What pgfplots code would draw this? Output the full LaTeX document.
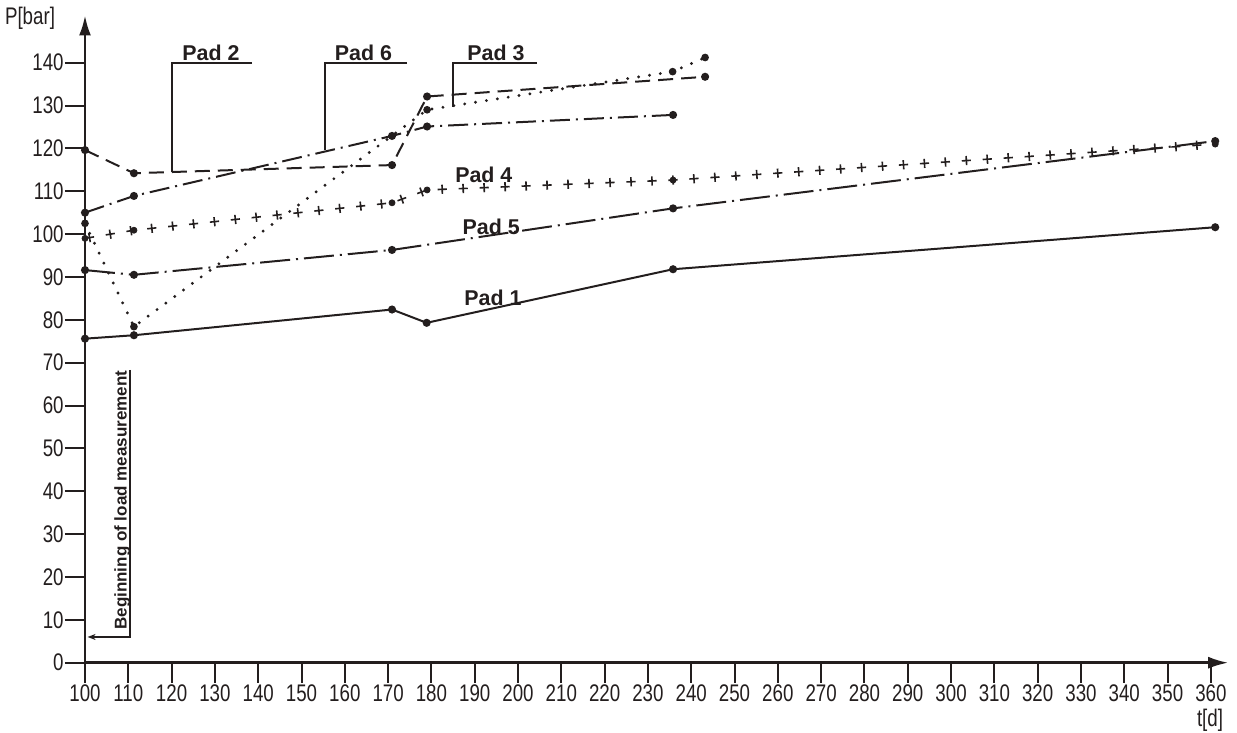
\documentclass[border=0pt]{standalone}
\usepackage{fontspec}
\setmainfont{Liberation Sans}
\newfontfamily\din[FakeStretch=0.78]{Liberation Sans}
\usepackage{pgfplots}
\usepackage{pgfplotstable}
\pgfplotsset{compat=1.18}
\usetikzlibrary{arrows.meta}
\definecolor{ink}{RGB}{35,30,30}

\pgfplotstableread{
x y
100 99.0
111.3 100.9
170.9 107.3
179 110.3
235.8 112.6
361 121.0
}\padfour

\begin{document}
\begin{tikzpicture}
\begin{axis}[
  at={(0,0)}, anchor=south west,
  scale only axis, width=571.6pt, height=323.6pt,
  xmin=100, xmax=364, ymin=0, ymax=151,
  axis lines=left,
  axis line style={ink, line width=1.2pt},
  x axis line style={-{Latex[length=10pt,width=6pt]}},
  y axis line style={-{Latex[length=10pt,width=6pt]}},
  xtick={100,110,...,360}, ytick={0,10,...,140},
  tick align=outside, major tick length=10pt,
  tick style={ink, line width=1pt},
  ticklabel style={font=\din\fontsize{12}{12}\selectfont, text=ink},
  /pgf/number format/assume math mode=true,
  yticklabel style={inner sep=0.5pt},
  xticklabel style={inner sep=1pt},
  clip=false,
]
% Pad 1 (solid)
\addplot[ink, line width=1pt, mark=*, mark size=1.5pt, mark options={solid, fill=ink}]
  coordinates {(100,75.6)(111.3,76.4)(170.9,82.4)(178.9,79.3)(235.8,91.8)(361,101.6)};
% Pad 5 (long dash-dot)
\addplot[ink, line width=1pt, dash pattern=on 15pt off 3pt on 1pt off 3pt,
  mark=*, mark size=1.5pt, mark options={solid, fill=ink}]
  coordinates {(100,91.6)(111.3,90.5)(170.9,96.3)(235.8,106.0)(361,121.7)};
% Pad 4 (plus signs): horizontal bars + perpendicular bars via dash patterns
\addplot[ink, line width=0.8pt, mark=none, dash pattern=on 4.6pt off 5.9pt]
  table[x=x,y=y] {\padfour};
\addplot[ink, line width=4.6pt, line cap=butt, line join=bevel, mark=none,
  dash pattern=on 0.8pt off 9.7pt, dash phase=8.6pt]
  table[x=x,y=y] {\padfour};
\addplot[only marks, mark=*, mark size=1.5pt, mark options={solid, draw=ink, fill=ink}]
  table[x=x,y=y] {\padfour};
% Pad 6 (dash-dot)
\addplot[ink, line width=1pt, dash pattern=on 10pt off 3pt on 1pt off 3pt,
  mark=*, mark size=1.5pt, mark options={solid, fill=ink}]
  coordinates {(100,105.0)(111.3,108.9)(170.9,122.9)(179,125.1)(235.8,127.8)};
% Pad 2 (dashed)
\addplot[ink, line width=1pt, dash pattern=on 7.5pt off 4pt,
  mark=*, mark size=1.5pt, mark options={solid, fill=ink}]
  coordinates {(100,119.6)(111.3,114.2)(170.9,116.1)(179,132.1)(243.2,136.7)};
% Pad 3 (dotted)
\addplot[ink, line width=1.6pt, line cap=round, dash pattern=on 0pt off 5.5pt,
  mark=*, mark size=1.6pt, mark options={solid, fill=ink, line width=0.6pt}]
  coordinates {(100,102.5)(111.3,78.4)(179,129.0)(235.7,137.9)(243.2,141.2)};

% labels
\tikzset{padlbl/.style={font=\bfseries\fontsize{10.7}{12}\selectfont, text=ink, anchor=base, inner sep=0pt}}
\node[padlbl] at (axis cs:129.1,140.5) {Pad 2};
\node[padlbl] at (axis cs:164.3,140.5) {Pad 6};
\node[padlbl] at (axis cs:194.9,140.5) {Pad 3};
\node[padlbl] at (axis cs:192.1,112.1) {Pad 4};
\node[padlbl] at (axis cs:193.8,100.0) {Pad 5};
\node[padlbl] at (axis cs:194.2,83.4) {Pad 1};
\draw[ink, line width=0.8pt] (axis cs:138.6,139.9) -- (axis cs:120.1,139.9) -- (axis cs:120.1,114.5);
\draw[ink, line width=0.8pt] (axis cs:174.4,139.9) -- (axis cs:155.4,139.9) -- (axis cs:155.4,119.6);
\draw[ink, line width=0.8pt] (axis cs:204.4,139.9) -- (axis cs:185.0,139.9) -- (axis cs:185.0,129.7);

\node[font=\bfseries\fontsize{8.5}{10}\selectfont, text=ink, rotate=90, anchor=base, inner sep=0pt]
  at (axis cs:109.6,37.9) {Beginning of load measurement};
\draw[ink, line width=0.8pt, -{Stealth[length=4pt,width=3pt]}] (axis cs:110.4,68.3) -- (axis cs:110.4,6.0) -- (axis cs:100.6,6.0);

\node[font=\din\fontsize{12}{12}\selectfont, text=ink] at (axis cs:87.3,150.4) {P[bar]};
\node[font=\din\fontsize{12}{12}\selectfont, text=ink] at (axis cs:359.8,-13.4) {t[d]};
\end{axis}
\pgfresetboundingbox
\useasboundingbox (-42.5pt,-35.15pt) rectangle (576pt,331.35pt);
\end{tikzpicture}
\end{document}
